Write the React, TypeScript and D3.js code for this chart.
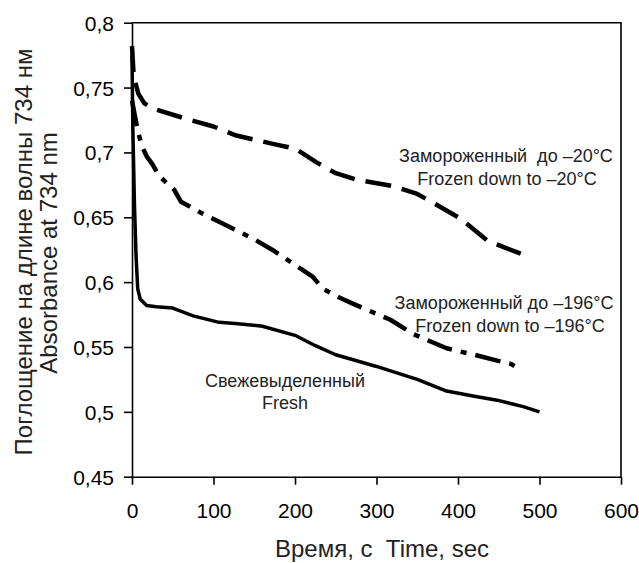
import React, { useEffect, useRef } from "react";
import * as d3 from "d3";

// time, s
const freshTime = [0, 1, 3, 5, 7, 10, 18, 30, 50, 75, 107, 130, 160, 200, 225, 250, 300, 350, 386, 420, 448, 480, 500];
const freshAbs = [0.775, 0.72, 0.66, 0.62, 0.595, 0.587, 0.582, 0.581, 0.58, 0.574, 0.569, 0.568, 0.566, 0.559, 0.551, 0.544, 0.535, 0.525, 0.516, 0.512, 0.509, 0.504, 0.5];

const minus20Time = [0, 2, 4, 8, 15, 25, 66, 100, 128, 177, 200, 226, 250, 275, 320, 350, 370, 403, 436, 460, 477];
const minus20Abs = [0.782, 0.76, 0.754, 0.745, 0.738, 0.734, 0.726, 0.72, 0.713, 0.706, 0.703, 0.6925, 0.684, 0.679, 0.674, 0.668, 0.661, 0.649, 0.632, 0.626, 0.622];

const minus196Time = [0, 3, 7, 12, 18, 25, 33, 45, 52, 60, 86, 123, 150, 173, 197, 222, 234, 255, 275, 317, 345, 386, 420, 448, 465, 477];
const minus196Abs = [0.74, 0.73, 0.717, 0.705, 0.697, 0.691, 0.682, 0.675, 0.671, 0.662, 0.653, 0.6415, 0.633, 0.6246, 0.6146, 0.604, 0.595, 0.588, 0.5823, 0.571, 0.56, 0.549, 0.544, 0.5395, 0.537, 0.532];

const xTicks = [0, 100, 200, 300, 400, 500, 600];
const yTicks = [0.45, 0.5, 0.55, 0.6, 0.65, 0.7, 0.75, 0.8];

export default function App() {
  const ref = useRef<SVGSVGElement>(null);

  useEffect(() => {
    const svg = d3.select(ref.current);
    svg.selectAll("*").remove();

    const width = 639;
    const height = 563;
    const left = 132, right = 621, top = 22.7, bottom = 476.7;

    svg.attr("width", width).attr("height", height);

    const x = d3.scaleLinear().domain([0, 600]).range([left, right]);
    const y = d3.scaleLinear().domain([0.45, 0.8]).range([bottom, top]);

    const fmt = (d: number) => String(d).replace(".", ",");

    // frame top / right
    svg.append("path")
      .attr("d", `M${left},${top}H${right}V${bottom}`)
      .attr("fill", "none")
      .attr("stroke", "#000")
      .attr("stroke-width", 1.6);

    // X Axis
    const gx = svg.append("g")
      .attr("transform", `translate(0, ${bottom})`)
      .call(d3.axisBottom(x).tickValues(xTicks).tickSize(8).tickPadding(10).tickSizeOuter(0));
    gx.selectAll("line").attr("stroke-width", 1.6);
    gx.select(".domain").attr("stroke-width", 1.6);
    gx.selectAll("text")
      .attr("dy", null)
      .attr("y", 41)
      .style("font-family", "'Liberation Sans', Arial, sans-serif")
      .style("font-size", "21px")
      .attr("fill", "#000");

    // Y Axis
    const gy = svg.append("g")
      .attr("transform", `translate(${left},0)`)
      .call(d3.axisLeft(y).tickValues(yTicks).tickFormat(d => fmt(d as number)).tickSize(8).tickPadding(10).tickSizeOuter(0));
    gy.selectAll("line").attr("stroke-width", 1.6);
    gy.select(".domain").attr("stroke-width", 1.6);
    gy.selectAll("text")
      .attr("dy", "0.36em")
      .style("font-family", "'Liberation Sans', Arial, sans-serif")
      .style("font-size", "21px")
      .attr("fill", "#000");

    const line = d3.line<[number, number]>()
      .x(d => x(d[0]))
      .y(d => y(d[1]))
      .curve(d3.curveLinear);

    const series = [
      { t: minus20Time, v: minus20Abs, dash: "26,11", w: 4.5 },
      { t: minus196Time, v: minus196Abs, dash: "26,9,6,9", w: 4.5 },
      { t: freshTime, v: freshAbs, dash: null, w: 3.5 },
    ];

    svg.append("g")
      .selectAll("path")
      .data(series)
      .enter()
      .append("path")
      .attr("d", d => line(d.t.map((t, i) => [t, d.v[i]] as [number, number])))
      .attr("fill", "none")
      .attr("stroke", "#000")
      .attr("stroke-width", d => d.w)
      .attr("stroke-linejoin", "round")
      .attr("stroke-dasharray", d => d.dash);

    // annotations
    const notes = [
      { x: 506, y: 162, text: "Замороженный  до –20°C" },
      { x: 507, y: 185, text: "Frozen down to –20°C" },
      { x: 504, y: 309, text: "Замороженный до –196°C" },
      { x: 510, y: 332, text: "Frozen down to –196°C" },
      { x: 285, y: 387, text: "Свежевыделенный" },
      { x: 285, y: 409, text: "Fresh" },
    ];
    svg.append("g")
      .selectAll("text")
      .data(notes)
      .enter()
      .append("text")
      .attr("x", d => d.x)
      .attr("y", d => d.y)
      .attr("text-anchor", "middle")
      .style("white-space", "pre")
      .style("font-family", "'Liberation Sans', Arial, sans-serif")
      .style("font-size", "18px")
      .attr("fill", "#222")
      .text(d => d.text);

    // axis titles
    svg.append("text")
      .attr("x", 382)
      .attr("y", 557)
      .attr("text-anchor", "middle")
      .style("white-space", "pre")
      .style("font-family", "'Liberation Sans', Arial, sans-serif")
      .style("font-size", "24px")
      .attr("fill", "#222")
      .text("Время, с  Time, sec");

    const yTitle = svg.append("text")
      .attr("transform", "rotate(-90)")
      .attr("text-anchor", "middle")
      .style("font-family", "'Liberation Sans', Arial, sans-serif")
      .style("font-size", "24px")
      .attr("fill", "#222");
    yTitle.append("tspan").attr("x", -252).attr("y", 32).text("Поглощение на длине волны 734 нм");
    yTitle.append("tspan").attr("x", -253).attr("y", 57).text("Absorbance at 734 nm");
  }, []);

  return (
    <svg ref={ref} style={{ position: "absolute", left: 0, top: 0, background: "#fff" }}></svg>
  );
}
